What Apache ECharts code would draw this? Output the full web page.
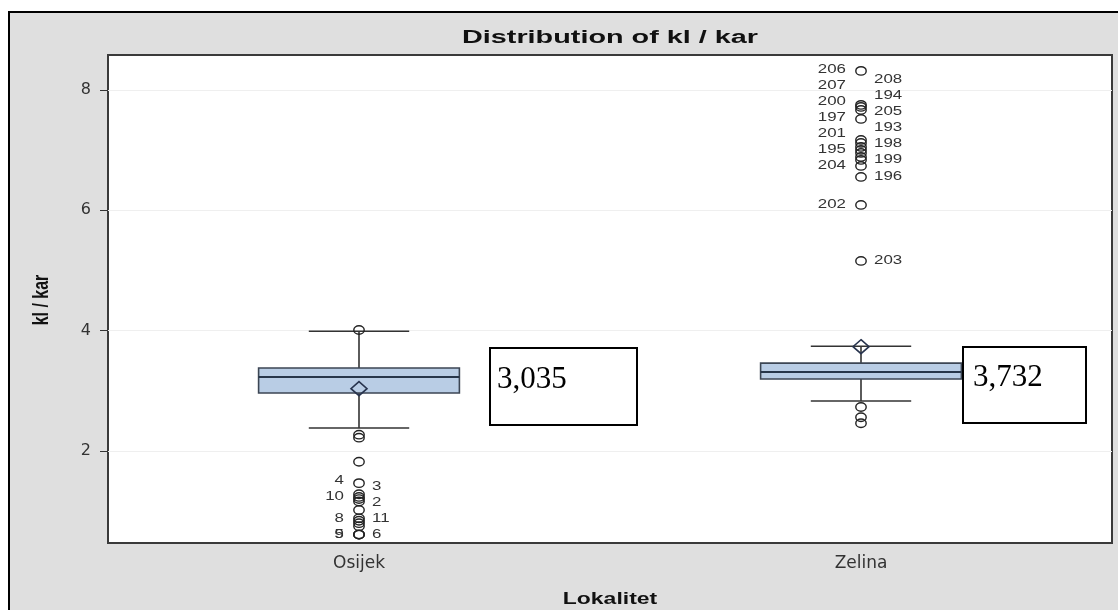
<!DOCTYPE html>
<html><head><meta charset="utf-8">
<script src="https://cdn.jsdelivr.net/npm/echarts@6/dist/echarts.min.js"></script>
<style>html,body{margin:0;padding:0;background:#fff}#c{width:1118px;height:610px}</style>
</head><body><div id="c"></div>
<script>
const categories = ['Osijek', 'Zelina'];
const whiskerLow = [2.38, 2.83];
const q1 = [2.963, 3.195];
const median = [3.228, 3.31];
const q3 = [3.378, 3.46];
const whiskerHigh = [3.99, 3.74];
const means = [3.035, 3.732];
const osijekOutliers = [4.01, 2.27, 2.22, 1.82, 1.465, 1.28, 1.235, 1.20, 1.16, 1.02, 0.88, 0.84, 0.80, 0.75, 0.61, 0.61, 0.61];
const osijekIds = ['', '', '', '', '4', '3', '10', '', '', '2', '8', '', '11', '', '5', '6', '9'];
const zelinaOutliers = [8.316, 7.751, 7.717, 7.668, 7.518, 7.169, 7.119, 7.053, 7.003, 6.953, 6.886, 6.837, 6.737, 6.554, 6.089, 5.158, 2.73, 2.56, 2.46];
const zelinaIds = ['206', '208', '207', '194', '200', '205', '197', '193', '201', '198', '195', '199', '204', '196', '202', '203', '', '', ''];
const yTicks = [2, 4, 6, 8];
const yMin = 0.47, yMax = 8.58;
const titleText = 'Distribution of kl / kar';
const xName = 'Lokalitet';
const yName = 'kl / kar';

const S = 1.35; // horizontal stretch of the original picture's text
const GAP = 16;
const outlierSets = [osijekOutliers, zelinaOutliers];
const outlierIds = [osijekIds, zelinaIds];

function layoutLabels(api) {
  const res = {};
  outlierSets.forEach((vals, ci) => {
    const ids = outlierIds[ci];
    const items = vals.map((v, k) => ({ k, v, id: ids[k] })).filter(o => o.id);
    items.sort((a, b) => b.v - a.v);
    items.forEach((o, j) => { o.side = j % 2 === 0 ? 'L' : 'R'; o.py = api.coord([ci, o.v])[1]; });
    ['L', 'R'].forEach(side => {
      const s = items.filter(o => o.side === side).sort((a, b) => b.py - a.py);
      let prev = null;
      s.forEach(o => {
        let y = o.py;
        if (prev) {
          if (Math.abs(o.py - prev.py) < 0.5) y = prev.ly;
          else y = Math.min(y, prev.ly - GAP);
        }
        o.ly = y; prev = o;
      });
    });
    items.forEach(o => { res[ci + '_' + o.k] = o; });
  });
  return res;
}

const boxData = categories.map((c, i) => [i, whiskerLow[i], q1[i], median[i], q3[i], whiskerHigh[i], means[i]]);
const outlierData = [];
outlierSets.forEach((vals, ci) => vals.forEach((v, k) => outlierData.push([ci, v, k])));

const chart = echarts.init(document.getElementById('c'), null, { renderer: 'canvas' });
const lineC = '#333';
chart.setOption({
  animation: false,
  backgroundColor: '#fff',
  grid: { left: 108, top: 55, right: 6, bottom: 67, show: true, backgroundColor: '#fff', borderColor: '#3a3a3a', borderWidth: 2 },
  xAxis: {
    type: 'category', data: categories,
    axisLine: { show: false },
    axisTick: { alignWithLabel: true, length: 6, lineStyle: { color: lineC } },
    axisLabel: { fontFamily: 'DejaVu Sans', fontSize: 17, color: '#333', margin: 12 },
    splitLine: { show: false }
  },
  yAxis: {
    type: 'value', min: yMin, max: yMax,
    axisLine: { show: false },
    axisTick: { show: true, length: 8, customValues: yTicks, lineStyle: { color: lineC } },
    axisLabel: { customValues: yTicks, fontFamily: 'DejaVu Sans', fontSize: 16, color: '#333', margin: 17 },
    splitLine: { show: true, lineStyle: { color: '#efefef' } }
  },
  series: [
    {
      type: 'custom', data: boxData, z: 3,
      renderItem(params, api) {
        const i = api.value(0);
        const lo = api.value(1), a = api.value(2), md = api.value(3), b = api.value(4), hi = api.value(5), mn = api.value(6);
        const band = api.size([1, 0])[0];
        const cx = api.coord([i, md])[0];
        const bw = band * 0.4, cw = band * 0.2;
        const Y = v => api.coord([i, v])[1];
        const yq1 = Y(a), yq3 = Y(b), ymd = Y(md), ylo = Y(lo), yhi = Y(hi), ymn = Y(mn);
        const ln = (x1, y1, x2, y2, c, w) => ({ type: 'line', shape: { x1, y1, x2, y2 }, style: { stroke: c, lineWidth: w } });
        return {
          type: 'group', children: [
            ln(cx, yq3, cx, yhi, '#333', 1.6),
            ln(cx, yq1, cx, ylo, '#333', 1.6),
            ln(cx - cw / 2, yhi, cx + cw / 2, yhi, '#333', 1.6),
            ln(cx - cw / 2, ylo, cx + cw / 2, ylo, '#333', 1.6),
            { type: 'rect', shape: { x: cx - bw / 2, y: yq3, width: bw, height: yq1 - yq3 }, style: { fill: '#b9cde5', stroke: '#3c4654', lineWidth: 1.6 } },
            ln(cx - bw / 2, ymd, cx + bw / 2, ymd, '#27364a', 2),
            { type: 'polygon', shape: { points: [[cx, ymn - 7], [cx + 8, ymn], [cx, ymn + 7], [cx - 8, ymn]] }, style: { fill: 'none', stroke: '#27334d', lineWidth: 1.6 } }
          ]
        };
      }
    },
    {
      type: 'custom', data: outlierData, z: 4,
      renderItem(params, api) {
        if (!params.context.lay) params.context.lay = layoutLabels(api);
        const ci = api.value(0), v = api.value(1), k = api.value(2);
        const p = api.coord([ci, v]);
        const children = [{ type: 'ellipse', shape: { cx: p[0], cy: p[1], rx: 5.2, ry: 4.2 }, style: { fill: 'none', stroke: '#222', lineWidth: 1.4 } }];
        const o = params.context.lay[ci + '_' + k];
        if (o) {
          const left = o.side === 'L';
          children.push({
            type: 'text', x: p[0] + (left ? -15 : 13), y: o.ly, scaleX: S,
            style: { text: o.id, font: '12.5px "Liberation Sans"', fill: '#333', align: left ? 'right' : 'left', textAlign: left ? 'right' : 'left', verticalAlign: 'middle', textVerticalAlign: 'middle' }
          });
        }
        return { type: 'group', children };
      }
    }
  ],
  graphic: [
    { type: 'rect', z: -10, shape: { x: 9, y: 12, width: 1200, height: 700 }, style: { fill: '#dfdfdf', stroke: '#000', lineWidth: 2 } },
    { type: 'text', x: 610, y: 38, scaleX: 1.6, style: { text: titleText, font: 'bold 18px "Liberation Sans"', fill: '#111', align: 'center', textAlign: 'center', verticalAlign: 'middle', textVerticalAlign: 'middle' } },
    { type: 'text', x: 42, y: 300, rotation: Math.PI / 2, scaleY: 1.4, style: { text: yName, font: 'bold 16px "Liberation Sans"', fill: '#111', align: 'center', textAlign: 'center', verticalAlign: 'middle', textVerticalAlign: 'middle' } },
    { type: 'text', x: 610, y: 599, scaleX: S, style: { text: xName, font: 'bold 17px "Liberation Sans"', fill: '#111', align: 'center', textAlign: 'center', verticalAlign: 'middle', textVerticalAlign: 'middle' } },
    { type: 'rect', z: 20, shape: { x: 490, y: 348, width: 147, height: 77 }, style: { fill: '#fff', stroke: '#000', lineWidth: 2 } },
    { type: 'text', z: 21, x: 497, y: 380, style: { text: means[0].toFixed(3).replace('.', ','), font: '31px "Liberation Serif"', fill: '#000', align: 'left', textAlign: 'left', verticalAlign: 'middle', textVerticalAlign: 'middle' } },
    { type: 'rect', z: 20, shape: { x: 963, y: 347, width: 123, height: 76 }, style: { fill: '#fff', stroke: '#000', lineWidth: 2 } },
    { type: 'text', z: 21, x: 973, y: 378, style: { text: means[1].toFixed(3).replace('.', ','), font: '31px "Liberation Serif"', fill: '#000', align: 'left', textAlign: 'left', verticalAlign: 'middle', textVerticalAlign: 'middle' } }
  ]
});
</script></body></html>
